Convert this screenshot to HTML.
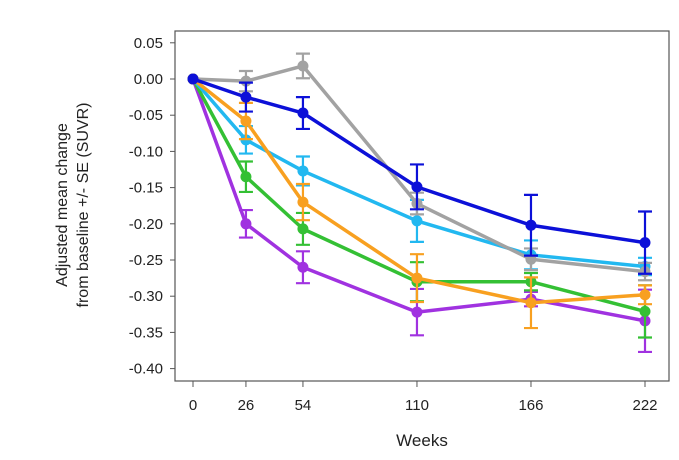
<!DOCTYPE html>
<html><head><meta charset="utf-8"><style>
body{margin:0;background:#fff;}
svg{display:block;font-family:"Liberation Sans",Arial,sans-serif;}
</style></head><body>
<svg id="chart" width="679" height="460">
<rect x="175" y="31" width="494" height="350" fill="none" stroke="#555" stroke-width="1.2"/>
<g id="yaxis"></g>
<g id="xaxis"></g>
<g id="series"></g>
<text transform="translate(67,205) rotate(-90)" text-anchor="middle" font-size="16" fill="#222">Adjusted mean change</text>
<text transform="translate(88,205) rotate(-90)" text-anchor="middle" font-size="16" fill="#222">from baseline +/- SE (SUVR)</text>
<text x="422" y="446" text-anchor="middle" font-size="17" fill="#222">Weeks</text>
</svg>
<script>
const weeks=[0,26,54,110,166,222];
const yTicks=[0.05,0,-0.05,-0.10,-0.15,-0.20,-0.25,-0.30,-0.35,-0.40];
const grayVals=[0,-0.003,0.018,-0.172,-0.249,-0.266];
const grayErr=[0,0.014,0.017,0.015,0.015,0.012];
const purpleVals=[0,-0.200,-0.260,-0.322,-0.304,-0.334];
const purpleErr=[0,0.019,0.022,0.032,0.010,0.043];
const greenVals=[0,-0.135,-0.207,-0.280,-0.280,-0.321];
const greenErr=[0,0.021,0.022,0.027,0.012,0.036];
const orangeVals=[0,-0.058,-0.170,-0.275,-0.309,-0.298];
const orangeErr=[0,0.025,0.025,0.033,0.035,0.013];
const cyanVals=[0,-0.084,-0.127,-0.196,-0.243,-0.259];
const cyanErr=[0,0.019,0.020,0.029,0.020,0.012];
const blueVals=[0,-0.025,-0.047,-0.149,-0.202,-0.226];
const blueErr=[0,0.020,0.022,0.031,0.042,0.043];
const NS="http://www.w3.org/2000/svg";
const xs=w=>193+w*(452/222);
const ys=v=>79-v*724;
function mk(t,a,p){const e=document.createElementNS(NS,t);for(const k in a)e.setAttribute(k,a[k]);p.appendChild(e);return e;}
const ya=document.getElementById('yaxis');
yTicks.forEach(v=>{
 const l=mk('line',{x1:170,x2:175,y1:ys(v),y2:ys(v),stroke:'#555'},ya);
 
 
 const t=mk('text',{x:163,y:ys(v)+5,'text-anchor':'end','font-size':15,fill:'#222'},ya);
 t.textContent=v.toFixed(2);
 
 
});
const xa=document.getElementById('xaxis');
weeks.forEach(w=>{
 const l=mk('line',{x1:xs(w),x2:xs(w),y1:381,y2:387,stroke:'#555'},xa);
 
 
 const t=mk('text',{x:xs(w),y:410,'text-anchor':'middle','font-size':15,fill:'#222'},xa);
 t.textContent=w;
 
 
});
const sg=document.getElementById('series');
function draw(name,vals,errs,col){
 const g=mk('g',{},sg);
 
 
 vals.forEach((v,i)=>{
  if(!errs[i])return;
  const x=xs(weeks[i]),y1=ys(v+errs[i]),y2=ys(v-errs[i]);
  const e=mk('path',{d:`M${x},${y1}V${y2}M${x-7},${y1}H${x+7}M${x-7},${y2}H${x+7}`,stroke:col,'stroke-width':2.2,fill:'none'},g);
  
  
 });
 const p=mk('polyline',{points:vals.map((v,i)=>xs(weeks[i])+','+ys(v)).join(' '),stroke:col,'stroke-width':3.5,fill:'none','stroke-linejoin':'round'},g);
 
 
 vals.forEach((v,i)=>{
  const c=mk('circle',{cx:xs(weeks[i]),cy:ys(v),r:5.5,fill:col},g);
  
  
 });
}
draw('purple',purpleVals,purpleErr,'#a032e0');
draw('green',greenVals,greenErr,'#34c034');
draw('cyan',cyanVals,cyanErr,'#22b8f0');
draw('gray',grayVals,grayErr,'#a2a2a2');
draw('orange',orangeVals,orangeErr,'#f8a020');
draw('blue',blueVals,blueErr,'#0c10d8');
</script>
</body></html>
